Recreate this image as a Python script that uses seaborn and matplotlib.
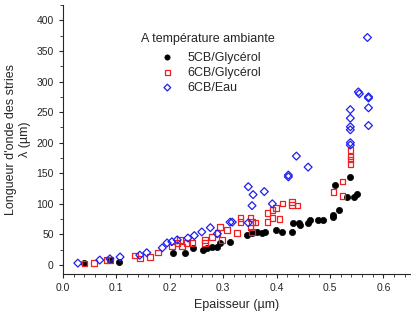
import numpy as np
import pandas as pd
import matplotlib
matplotlib.use('Agg')
import matplotlib.pyplot as plt
import seaborn as sns
from matplotlib.ticker import MultipleLocator

# 5CB / glycerol
x_5cb_gly = [0.04, 0.088, 0.105, 0.206, 0.229, 0.244, 0.263, 0.27, 0.279, 0.289, 0.294,
             0.313, 0.345, 0.354, 0.364, 0.373, 0.379, 0.398, 0.411, 0.429, 0.431, 0.441,
             0.444, 0.458, 0.463, 0.478, 0.486, 0.506, 0.506, 0.516, 0.51, 0.538, 0.531,
             0.544, 0.551]
y_5cb_gly = [3, 8, 5, 20, 20, 28, 25, 28, 30, 30, 36,
             38, 49, 52, 54, 52, 54, 57, 54, 54, 69, 69,
             65, 69, 74, 74, 74, 82, 79, 90, 131, 144, 111,
             111, 116]

# 6CB / glycerol
x_6cb_gly = [0.04, 0.058, 0.082, 0.088, 0.135, 0.144, 0.163, 0.178, 0.204, 0.214,
             0.219, 0.223, 0.232, 0.242, 0.266, 0.266, 0.279, 0.289, 0.294, 0.298,
             0.307, 0.326, 0.332, 0.332, 0.351, 0.354, 0.351, 0.354, 0.36, 0.383,
             0.383, 0.392, 0.392, 0.399, 0.405, 0.411, 0.429, 0.429, 0.439, 0.506,
             0.523, 0.523, 0.538, 0.538, 0.538, 0.538]
y_6cb_gly = [2, 3, 8, 8, 15, 11, 13, 20, 30, 36,
             41, 30, 36, 36, 41, 36, 46, 52, 62, 41,
             57, 52, 77, 70, 77, 70, 61, 54, 69, 85,
             70, 90, 77, 93, 75, 100, 103, 98, 97, 119,
             136, 113, 165, 172, 177, 188]

# 6CB / eau
x_6cb_eau = [0.028, 0.069, 0.088, 0.107, 0.144, 0.157, 0.186, 0.195, 0.204, 0.214,
             0.234, 0.246, 0.26, 0.276, 0.289, 0.313, 0.317, 0.347, 0.354, 0.347,
             0.356, 0.377, 0.392, 0.422, 0.422, 0.437, 0.459, 0.538, 0.538, 0.538,
             0.538, 0.538, 0.538, 0.553, 0.555, 0.572, 0.572, 0.572, 0.572, 0.57]
y_6cb_eau = [3, 8, 10, 13, 16, 20, 28, 36, 38, 41,
             44, 48, 54, 61, 51, 70, 70, 69, 97, 128,
             115, 120, 100, 147, 144, 178, 160, 196, 200, 226,
             240, 254, 221, 283, 280, 275, 273, 257, 228, 372]

df = pd.concat([
    pd.DataFrame({'ep': x_5cb_gly, 'lam': y_5cb_gly, 'serie': '5CB/Glycérol'}),
    pd.DataFrame({'ep': x_6cb_gly, 'lam': y_6cb_gly, 'serie': '6CB/Glycérol'}),
    pd.DataFrame({'ep': x_6cb_eau, 'lam': y_6cb_eau, 'serie': '6CB/Eau'}),
])

sns.set_style('ticks')
plt.rcParams['font.family'] = ['Liberation Sans', 'DejaVu Sans']

fig = plt.figure(figsize=(4.11, 3.18), dpi=100)
ax = fig.add_axes([0.153, 0.138, 0.845, 0.846])

sns.scatterplot(data=df[df.serie == '5CB/Glycérol'], x='ep', y='lam', ax=ax,
                marker='o', color='black', s=20, edgecolor='black', linewidth=0.5,
                label='5CB/Glycérol')
sns.scatterplot(data=df[df.serie == '6CB/Glycérol'], x='ep', y='lam', ax=ax,
                marker='s', facecolor='none', edgecolor='#ee2020', s=15, linewidth=0.9,
                label='6CB/Glycérol')
sns.scatterplot(data=df[df.serie == '6CB/Eau'], x='ep', y='lam', ax=ax,
                marker='D', facecolor='none', edgecolor='#2020ee', s=16, linewidth=0.9,
                label='6CB/Eau')

ax.set_xlim(0, 0.65)
ax.set_ylim(-15, 425)
ax.xaxis.set_minor_locator(MultipleLocator(0.02))
ax.yaxis.set_minor_locator(MultipleLocator(25))
ax.set_yticks(np.arange(0, 401, 50))
ax.set_xticks(np.arange(0, 0.61, 0.1))
ax.set_xticklabels(['0.0', '0.1', '0.2', '0.3', '0.4', '0.5', '0.6'])
ax.tick_params(which='major', length=3, width=0.8, labelsize=7.5, direction='out')
ax.tick_params(which='minor', length=2, width=0.6, direction='out')
sns.despine(ax=ax)

ax.set_xlabel('Epaisseur (µm)', fontsize=9)
ax.set_ylabel("Longueur d'onde des stries\nλ (µm)", fontsize=9)

leg = ax.legend(title='A température ambiante', frameon=False, fontsize=9,
                title_fontsize=9, loc='upper left', bbox_to_anchor=(0.2, 0.93),
                handletextpad=0.6, labelspacing=0.25, borderpad=0.2, markerscale=0.85)
leg._legend_box.sep = 5

fig.savefig('out.png', dpi=100)
